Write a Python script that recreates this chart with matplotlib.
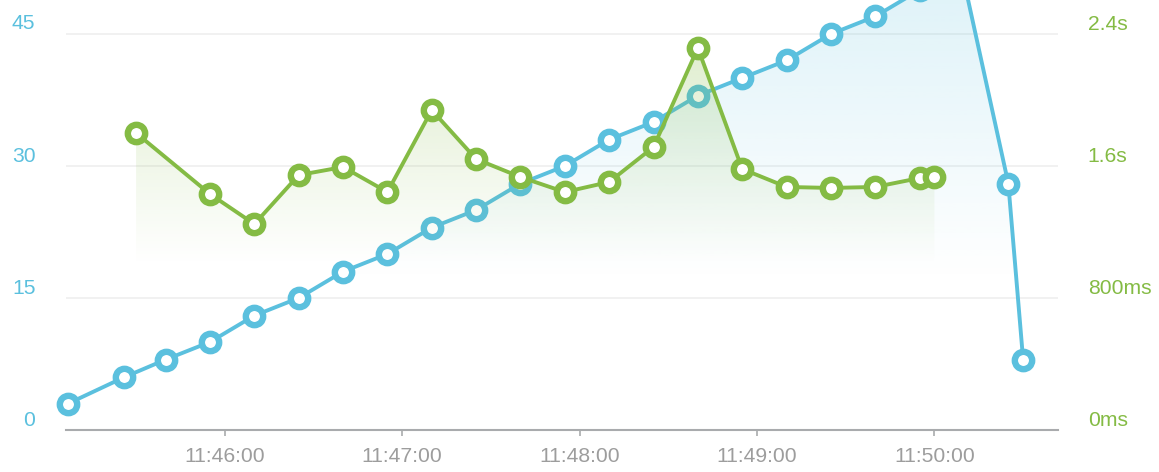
import numpy as np
import pandas as pd
import matplotlib
matplotlib.use('Agg')
import matplotlib.pyplot as plt
import matplotlib.dates as mdates
import matplotlib.colors as mcolors
from matplotlib.transforms import ScaledTranslation

plt.rcParams['font.family'] = ['Liberation Sans', 'DejaVu Sans']

BLUE = '#5bc0de'
GREEN = '#84bb44'

# left axis series (count)
blue_times = ['11:45:07', '11:45:26', '11:45:40', '11:45:55', '11:46:10', '11:46:25',
              '11:46:40', '11:46:55', '11:47:10', '11:47:25', '11:47:40', '11:47:55',
              '11:48:10', '11:48:25', '11:48:40', '11:48:55', '11:49:10', '11:49:25',
              '11:49:40', '11:49:55', '11:50:10', '11:50:25', '11:50:30']
blue_values = [3, 6, 8, 10, 13, 15, 18, 20, 23, 25, 28, 30, 33, 35, 38, 40, 42, 45,
               47, 50, 51, 28, 8]

# right axis series (response time, ms)
green_times = ['11:45:30', '11:45:55', '11:46:10', '11:46:25', '11:46:40', '11:46:55',
               '11:47:10', '11:47:25', '11:47:40', '11:47:55', '11:48:10', '11:48:25',
               '11:48:40', '11:48:55', '11:49:10', '11:49:25', '11:49:40', '11:49:55',
               '11:50:00']
green_values = [1800, 1430, 1248, 1545, 1594, 1442, 1939, 1642, 1533, 1442, 1503, 1715,
                2315, 1582, 1473, 1467, 1473, 1527, 1533]

left_ticks = [0, 15, 30, 45]
right_ticks = [0, 800, 1600, 2400]
right_labels = ['0ms', '800ms', '1.6s', '2.4s']


def to_num(times):
    return mdates.date2num(pd.to_datetime(['2024-01-01 ' + t for t in times]))


def gradient_fill(ax, x, y, color, a_top, y_fade, zorder):
    poly = ax.fill_between(x, y, 0, facecolor='none', edgecolor='none')
    path = poly.get_paths()[0]
    rgb = mcolors.to_rgb(color)
    img = np.zeros((256, 1, 4))
    img[:, :, :3] = rgb
    img[:, 0, 3] = np.linspace(0, a_top, 256)
    im = ax.imshow(img, aspect='auto', origin='lower', zorder=zorder,
                   extent=[x.min(), x.max(), y_fade, max(y)], interpolation='bilinear')
    im.set_clip_path(path, ax.transData)


bx = to_num(blue_times)
gx = to_num(green_times)

fig = plt.figure(figsize=(11.59, 4.72), dpi=100)
ax = fig.add_axes([66 / 1159, 42 / 472, 992 / 1159, 430 / 472])
ax2 = ax.twinx()

gradient_fill(ax, bx, blue_values, BLUE, 0.2, 17, 1)
ax.plot(bx, blue_values, color=BLUE, lw=2.8, marker='o', ms=12.5, mew=4.6,
        mfc='white', mec=BLUE, zorder=3, clip_on=False)

gradient_fill(ax2, gx, green_values, GREEN, 0.25, 1000, 1)
ax2.plot(gx, green_values, color=GREEN, lw=2.8, marker='o', ms=12.5, mew=4.6,
         mfc='white', mec=GREEN, zorder=3, clip_on=False)

t0 = bx[0] - 0.7 / 86400
ax.set_xlim(t0, t0 + 335.5 / 86400)
ax.set_ylim(0, 430 / 8.8)
ax2.set_ylim(0, 430 / 0.165)

ax.set_yticks(left_ticks)
ax.set_yticklabels([str(t) for t in left_ticks])
ax2.set_yticks(right_ticks)
ax2.set_yticklabels(right_labels)

for a in (ax, ax2):
    for s in a.spines.values():
        s.set_visible(False)
ax.spines['bottom'].set_visible(True)
ax.spines['bottom'].set_color('#a9abad')
ax.spines['bottom'].set_linewidth(1.5)

ax.grid(axis='y', color='#efefef', lw=1.2)
ax.set_axisbelow(True)
ax.patch.set_visible(False)
ax2.set_zorder(ax.get_zorder() + 1)

ax.xaxis.set_major_locator(mdates.MinuteLocator())
ax.xaxis.set_major_formatter(mdates.DateFormatter('%H:%M:%S'))
ax.tick_params(axis='x', colors='#a9abad', length=4, width=1.2, pad=8,
               labelsize=15.2, labelcolor='#9d9d9d')
ax.tick_params(axis='y', length=0, pad=22, labelsize=15.2, labelcolor=BLUE)
ax2.tick_params(axis='y', length=0, pad=21.5, labelsize=15.2, labelcolor=GREEN)

shift = ScaledTranslation(0, 12 / 100, fig.dpi_scale_trans)
for lab in ax.get_yticklabels() + ax2.get_yticklabels():
    lab.set_transform(lab.get_transform() + shift)

fig.savefig('out.png', dpi=100)
